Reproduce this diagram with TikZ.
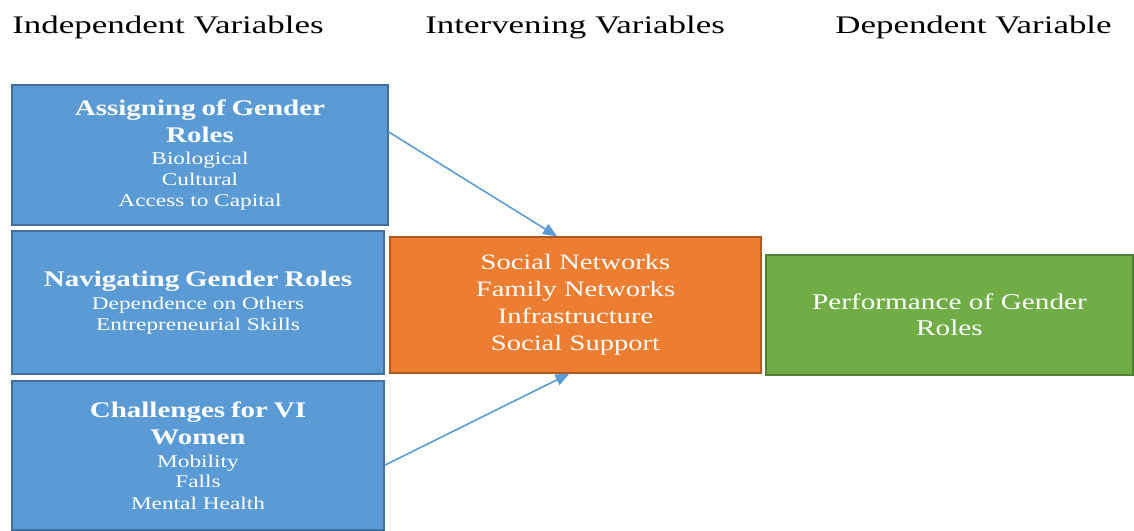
\documentclass[tikz,border=0pt]{standalone}
\usepackage{fontspec}
\setmainfont[FakeStretch=1.3]{Liberation Serif}
\newfontfamily\headfont[FakeStretch=1.38]{Liberation Serif}
\usetikzlibrary{arrows.meta}
\definecolor{boxblue}{HTML}{5B9BD5}
\definecolor{boxblueline}{HTML}{41719C}
\definecolor{boxorange}{HTML}{ED7D31}
\definecolor{boxorangeline}{HTML}{AE5A21}
\definecolor{boxgreen}{HTML}{70AD47}
\definecolor{boxgreenline}{HTML}{507E32}
\newcommand{\ttlsize}{\fontsize{12.7}{15.3}\selectfont\bfseries}
\newcommand{\itmsize}{\fontsize{10.2}{11.9}\selectfont\mdseries}
\tikzset{var box/.style={rectangle,draw,line width=0.7pt,text=white,align=center,text width=7cm,inner sep=0pt},
         indep box/.style={var box,fill=boxblue,draw=boxblueline},
         inter box/.style={var box,fill=boxorange,draw=boxorangeline,font=\fontsize{12.5}{15.3}\selectfont},
         dep box/.style={var box,fill=boxgreen,draw=boxgreenline,font=\fontsize{12.8}{14.8}\selectfont},
         head label/.style={anchor=base west,inner sep=0pt,font=\headfont\fontsize{14.4}{17}\selectfont},
         link/.style={-{Triangle[length=8pt,width=6.5pt]},boxblue,line width=0.9pt},
}

\begin{document}
\begin{tikzpicture}[x=0.02cm,y=-0.02cm]
% \draw[help lines] (0,0) grid (1134,531);
\useasboundingbox (0,0) rectangle (1134,531);
\node[head label] (hindep) at (12,33) {Independent Variables};
\node[head label] (hinter) at (425,33) {Intervening Variables};
\node[head label] (hdep) at (835,33) {Dependent Variable};

\node[indep box,minimum width=7.52cm,minimum height=2.8cm] (assign) at (200,155)
    {\ttlsize Assigning of Gender\\ Roles\\[1pt] \itmsize Biological\\ Cultural\\ Access to Capital};
\node[indep box,minimum width=7.44cm,minimum height=2.86cm] (navig) at (198,302.5)
    {\ttlsize Navigating Gender Roles\\[1pt] \itmsize Dependence on Others\\ Entrepreneurial Skills};
\node[indep box,minimum width=7.44cm,minimum height=2.98cm] (chall) at (198,455.5)
    {\ttlsize Challenges for VI\\ Women\\[1pt] \itmsize Mobility\\ Falls\\ Mental Health};

\node[inter box,minimum width=7.42cm,minimum height=2.72cm] (inter) at (575.5,305)
    {Social Networks\\ Family Networks\\ Infrastructure\\ Social Support};
\node[dep box,minimum width=7.34cm,minimum height=2.4cm] (perf) at (949.5,315)
    {Performance of Gender\\ Roles};

\draw[link] (assign.7.6) -- (inter.105);
\draw[link] (chall.-3) -- (inter.265);
\end{tikzpicture}
\end{document}
